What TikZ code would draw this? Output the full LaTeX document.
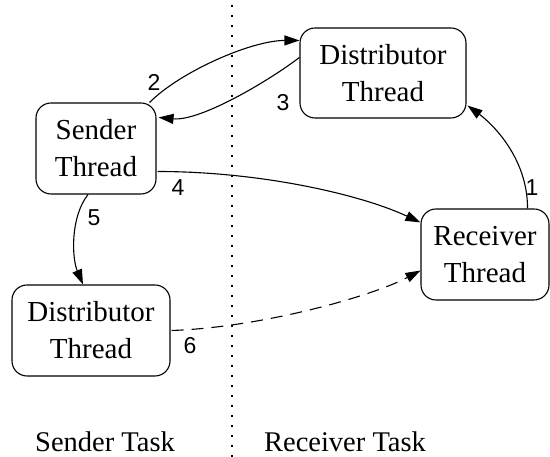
\documentclass[tikz,border=0pt]{standalone}
\usepackage{fontspec}
\setmainfont{Liberation Serif}
\newfontfamily\labelfont{Liberation Sans}
\usetikzlibrary{arrows.meta}
\begin{document}
\begin{tikzpicture}[x=1pt,y=1pt,
  thread/.style={draw, line width=1.1pt, rounded corners=15pt, inner sep=0pt,
    align=center, font=\fontsize{29}{37}\selectfont},
  flow/.style={line width=1.1pt, -{Triangle[length=15pt,width=10pt]}},
  num/.style={inner sep=0pt, font=\labelfont\fontsize{23}{23}\selectfont},
  task/.style={inner sep=0pt, anchor=base, font=\fontsize{28.5}{34}\selectfont}]
\useasboundingbox (0,0) rectangle (550,457);

% task boundary
\coordinate (top) at (232,452);
\coordinate (bottom) at (232,0);
\draw[line width=2.5pt, dash pattern=on 2.5pt off 7.5pt] (top) -- (bottom);

% threads
\node[thread, minimum width=166pt, minimum height=90pt] (dtop) at (383,384) {Distributor\\Thread};
\node[thread, minimum width=120pt, minimum height=91pt] (sender) at (96,308.5) {Sender\\Thread};
\node[thread, minimum width=128pt, minimum height=91pt] (recv) at (485,202.5) {Receiver\\Thread};
\node[thread, minimum width=158pt, minimum height=91pt] (dbot) at (91,126.5) {Distributor\\Thread};

% messages
\draw[flow] ([xshift=-22pt]recv.north east) .. controls +(0,52) and +(23,-17) .. ([xshift=1pt,yshift=13pt]dtop.south east);
\draw[flow] ([xshift=-7pt]sender.north east) .. controls +(31,31) and +(-48,0) .. ([yshift=-13pt]dtop.north west);
\draw[flow] ([yshift=-30pt]dtop.north west) .. controls +(-30,-23) and +(42,-4) .. ([xshift=2pt,yshift=-15pt]sender.north east);
\draw[flow] ([xshift=1pt,yshift=-23pt]sender.east) .. controls +(103,0) and +(-60,28) .. ([yshift=-14pt]recv.north west);
\draw[flow] ([xshift=-8pt]sender.south) .. controls +(-18,-23) and +(-11,26) .. ([xshift=-8pt]dbot.north);
\draw[flow, dashed, dash pattern=on 12pt off 8pt] ([xshift=1pt]dbot.east) .. controls +(89,3) and +(-49,-26) .. ([yshift=30pt]recv.south west);

% message numbers
\node[num] (n1) at (532,269) {1};
\node[num] (n2) at (154,375) {2};
\node[num] (n3) at (283,354) {3};
\node[num] (n4) at (178,269) {4};
\node[num] (n5) at (94,239) {5};
\node[num] (n6) at (190,111) {6};

% task names
\node[task] (stask) at (105,5) {Sender Task};
\node[task] (rtask) at (345,5) {Receiver Task};
\end{tikzpicture}
\end{document}
